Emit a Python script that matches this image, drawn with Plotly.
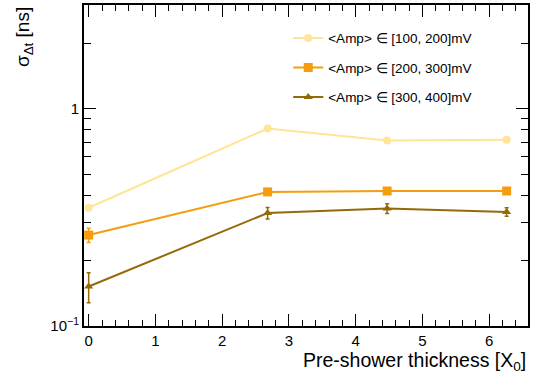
import plotly.graph_objects as go

thickness = [0, 2.68, 4.47, 6.26]
sig_100_200 = [0.35, 0.81, 0.714, 0.72]
err_100_200 = [0.01, 0.02, 0.015, 0.02]
sig_200_300 = [0.262, 0.414, 0.418, 0.418]
err_200_300 = [0.02, 0.01, 0.01, 0.01]
sig_300_400 = [0.152, 0.331, 0.347, 0.335]
err_300_400 = [0.024, 0.02, 0.018, 0.015]

names = ["&lt;Amp&gt; ∈ [100, 200]mV", "&lt;Amp&gt; ∈ [200, 300]mV", "&lt;Amp&gt; ∈ [300, 400]mV"]
colors = ["#FFE597", "#F59D0E", "#946A08"]
symbols = ["circle", "square", "triangle-up"]
sizes = [8, 9, 8]
series = [(sig_100_200, err_100_200), (sig_200_300, err_200_300), (sig_300_400, err_300_400)]

fig = go.Figure()
for i, (y, e) in enumerate(series):
    fig.add_trace(go.Scatter(
        x=thickness, y=y, name=names[i], mode="lines+markers",
        legendgroup=f"g{i}",
        line=dict(color=colors[i], width=2),
        marker=dict(color=colors[i], symbol=symbols[i], size=sizes[i]),
        error_y=dict(type="data", array=e, color=colors[i], thickness=1.5, width=2),
    ))

font = "Liberation Sans, Arial, sans-serif"
fig.update_layout(
    width=534, height=382,
    margin=dict(l=84, r=6, t=3, b=56),
    paper_bgcolor="white", plot_bgcolor="white",
    font=dict(family=font, size=14, color="black"),
    showlegend=True,
    legend=dict(x=0.46, y=0.945, xanchor="left", yanchor="top", bgcolor="rgba(0,0,0,0)",
                font=dict(size=13.5), tracegroupgap=9),
    xaxis=dict(range=[-0.07, 6.58], showgrid=False, zeroline=False,
               showline=True, linecolor="black", linewidth=2, mirror="ticks",
               ticks="inside", ticklen=12, tickwidth=1, tickcolor="black",
               tick0=0, dtick=1,
               minor=dict(ticks="inside", ticklen=6, dtick=0.2, tickcolor="black", showgrid=False),
               tickfont=dict(size=15)),
    yaxis=dict(type="log", range=[-1, 0.477], showgrid=False, zeroline=False,
               showline=True, linecolor="black", linewidth=2, mirror="ticks",
               ticks="inside", ticklen=12, tickwidth=1, tickcolor="black",
               tickvals=[0.1, 1], ticktext=["10<sup>−1</sup>", "1"],
               minor=dict(ticks="inside", ticklen=7, tickcolor="black", showgrid=False,
                          tickvals=[0.2, 0.3, 0.4, 0.5, 0.6, 0.7, 0.8, 0.9, 2]),
               tickfont=dict(size=15)),
    annotations=[
        dict(text="Pre-shower thickness [X<sub>0</sub>]", xref="paper", yref="paper",
             x=1, y=0, xanchor="right", yanchor="top", yshift=-21, showarrow=False,
             font=dict(size=19.5)),
        dict(text="σ<sub>Δt</sub> [ns]", xref="paper", yref="paper", textangle=-90,
             x=0, y=1, xanchor="right", yanchor="top", xshift=-46, showarrow=False,
             font=dict(size=19)),
    ],
)
fig.write_html("out.html")
